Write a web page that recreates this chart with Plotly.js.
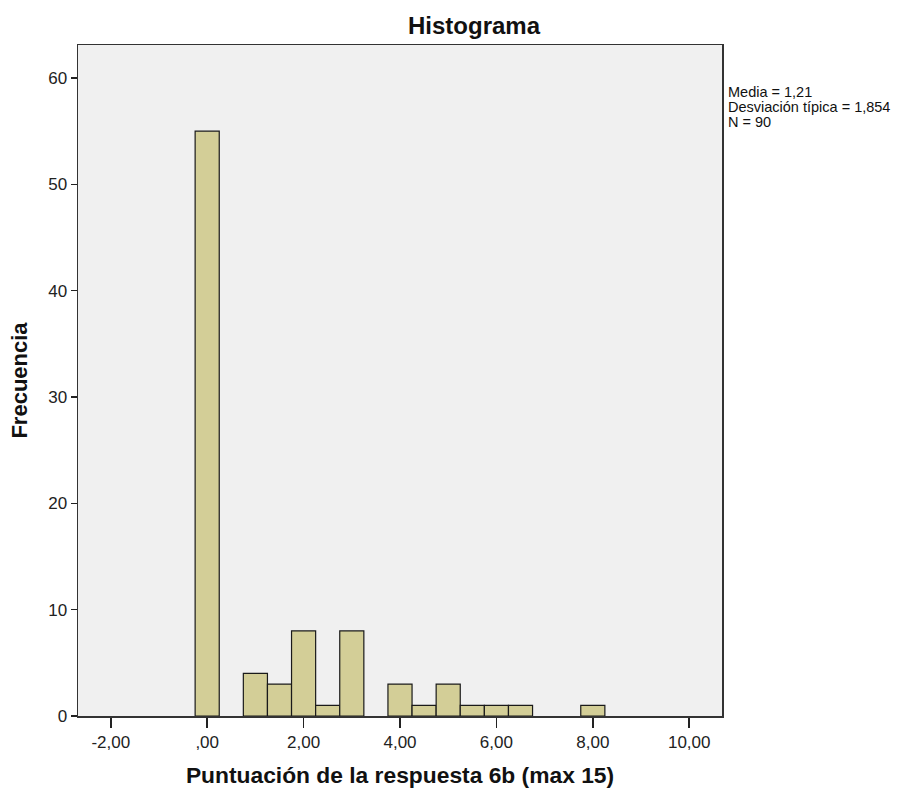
<!DOCTYPE html>
<html>
<head>
<meta charset="utf-8">
<script src="https://cdn.plot.ly/plotly-3.0.1.min.js"></script>
<style>html,body{margin:0;padding:0;background:#fff;}</style>
</head>
<body>
<div id="chart" style="width:916px;height:789px;"></div>
<script>
// Bin centres (score) and frequencies, bin width 0.5
var binCenters = [0, 1, 1.5, 2, 2.5, 3, 4, 4.5, 5, 5.5, 6, 6.5, 8];
var frequencies = [55, 4, 3, 8, 1, 8, 3, 1, 3, 1, 1, 1, 1];
var binWidth = 0.5;
var xTickVals = [-2, 0, 2, 4, 6, 8, 10];
var xTickText = ["-2,00", ",00", "2,00", "4,00", "6,00", "8,00", "10,00"];
var yTickVals = [0, 10, 20, 30, 40, 50, 60];
var statsLines = ["Media = 1,21", "Desviación típica = 1,854", "N = 90"];

var font = "Liberation Sans, Arial, sans-serif";

var trace = {
  type: "bar",
  x: binCenters,
  y: frequencies,
  width: binCenters.map(function(){ return binWidth; }),
  marker: { color: "#D3CE97", line: { color: "#1a1a1a", width: 1.2 } },
  hoverinfo: "x+y"
};

var annotations = [
  { xref: "paper", yref: "paper", x: 0.616, y: 1, yshift: 20, xanchor: "center", yanchor: "middle",
    text: "<b>Histograma</b>", showarrow: false, font: { family: font, size: 24, color: "#111" } }
];
statsLines.forEach(function(line, i){
  annotations.push({ xref: "paper", yref: "paper", x: 1, xshift: 4, y: 1, yshift: -47 - i * 15,
    xanchor: "left", yanchor: "middle", align: "left",
    text: line, showarrow: false, font: { family: font, size: 14.5, color: "#111" } });
});

var layout = {
  width: 916, height: 789,
  margin: { l: 78, r: 194, t: 45, b: 73 },
  paper_bgcolor: "#ffffff",
  plot_bgcolor: "#F0F0F0",
  showlegend: false,
  bargap: 0,
  font: { family: font, size: 17, color: "#222" },
  xaxis: {
    range: [-2.68, 10.68],
    tickvals: xTickVals, ticktext: xTickText,
    ticks: "outside", ticklen: 10, tickwidth: 1.5, tickcolor: "#222",
    showgrid: false, zeroline: false,
    showline: true, mirror: true, linecolor: "#333", linewidth: 1.5,
    tickfont: { family: font, size: 17, color: "#222" },
    title: { text: "<b>Puntuación de la respuesta 6b (max 15)</b>", font: { family: font, size: 22.8, color: "#111" }, standoff: 16 }
  },
  yaxis: {
    range: [0, 63.1],
    tickvals: yTickVals,
    ticks: "outside", ticklen: 6, tickwidth: 1.5, tickcolor: "#222",
    showgrid: false, zeroline: false,
    showline: true, mirror: true, linecolor: "#333", linewidth: 1.5,
    tickfont: { family: font, size: 17, color: "#222" },
    title: { text: "<b>Frecuencia</b>", font: { family: font, size: 22, color: "#111" }, standoff: 14 }
  },
  annotations: annotations
};

Plotly.newPlot("chart", [trace], layout, { displayModeBar: false, staticPlot: true });
</script>
</body>
</html>
